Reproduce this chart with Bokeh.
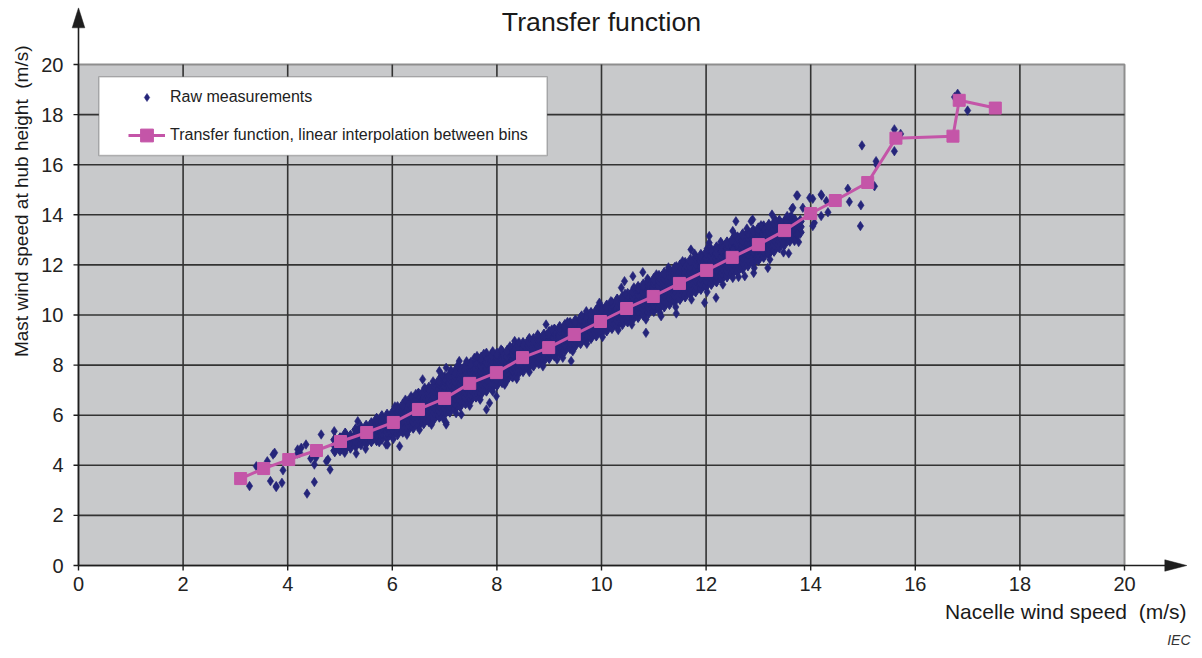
import math
from bokeh.plotting import figure
from bokeh.models import (Range1d, FixedTicker, Label, BoxAnnotation, Legend,
                          LegendItem, Title)
from bokeh.embed import file_html
from bokeh.resources import INLINE

# ---------------- data ----------------
x_ticks = [0, 2, 4, 6, 8, 10, 12, 14, 16, 18, 20]
y_ticks = [0, 2, 4, 6, 8, 10, 12, 14, 16, 18, 20]

# transfer function (bin averages)
tf_x = [3.10, 3.54, 4.02, 4.55, 5.01, 5.51, 6.02, 6.50, 7.00, 7.48, 7.99, 8.49,
        8.99, 9.48, 9.98, 10.48, 10.99, 11.49, 12.01, 12.50, 13.00, 13.50, 14.00,
        14.47, 15.09, 15.63, 16.72, 16.84, 17.53]
tf_y = [3.47, 3.87, 4.23, 4.59, 4.95, 5.31, 5.71, 6.23, 6.67, 7.27, 7.70, 8.30,
        8.70, 9.22, 9.74, 10.26, 10.74, 11.26, 11.78, 12.30, 12.81, 13.37, 14.05,
        14.57, 15.29, 17.06, 17.14, 18.57, 18.26]

# raw measurements, dense core read column by column (nacelle speed, mast speeds)
raw_columns = [
    (4.9, [4.58, 4.80, 5.02]),
    (5.0, [4.62, 4.84, 5.06]),
    (5.1, [4.66, 4.88, 5.10, 5.25]),
    (5.2, [4.72, 4.94, 5.16]),
    (5.3, [4.78, 5.00, 5.22, 5.42]),
    (5.4, [4.86, 5.08, 5.30, 5.50]),
    (5.5, [4.90, 5.12, 5.34, 5.56]),
    (5.6, [4.98, 5.20, 5.42, 5.66]),
    (5.7, [5.02, 5.24, 5.46, 5.68, 5.84]),
    (5.8, [5.08, 5.30, 5.52, 5.74, 5.94]),
    (5.9, [5.12, 5.34, 5.56, 5.78, 6.00]),
    (6.0, [5.20, 5.42, 5.64, 5.86, 6.08]),
    (6.1, [5.26, 5.48, 5.70, 5.92, 6.14, 6.30]),
    (6.2, [5.36, 5.58, 5.80, 6.02, 6.24, 6.40]),
    (6.3, [5.42, 5.64, 5.86, 6.08, 6.30, 6.52]),
    (6.4, [5.52, 5.74, 5.96, 6.18, 6.40, 6.62]),
    (6.5, [5.60, 5.82, 6.04, 6.26, 6.48, 6.70, 6.84]),
    (6.6, [5.70, 5.92, 6.14, 6.36, 6.58, 6.80, 6.94]),
    (6.7, [5.78, 6.00, 6.22, 6.44, 6.66, 6.88, 7.08]),
    (6.8, [5.88, 6.10, 6.32, 6.54, 6.76, 6.98, 7.20]),
    (6.9, [5.96, 6.18, 6.40, 6.62, 6.84, 7.06, 7.28, 7.40]),
    (7.0, [6.06, 6.28, 6.50, 6.72, 6.94, 7.16, 7.38, 7.50]),
    (7.1, [6.16, 6.38, 6.60, 6.82, 7.04, 7.26, 7.48, 7.62]),
    (7.2, [6.26, 6.48, 6.70, 6.92, 7.14, 7.36, 7.58, 7.74]),
    (7.3, [6.38, 6.60, 6.82, 7.04, 7.26, 7.48, 7.70, 7.84]),
    (7.4, [6.50, 6.72, 6.94, 7.16, 7.38, 7.60, 7.82, 7.96]),
    (7.5, [6.62, 6.84, 7.06, 7.28, 7.50, 7.72, 7.94, 8.06]),
    (7.6, [6.76, 6.98, 7.20, 7.42, 7.64, 7.86, 8.08, 8.16]),
    (7.7, [6.88, 7.10, 7.32, 7.54, 7.76, 7.98, 8.20, 8.28]),
    (7.8, [7.00, 7.22, 7.44, 7.66, 7.88, 8.10, 8.32]),
    (7.9, [7.10, 7.32, 7.54, 7.76, 7.98, 8.20, 8.40]),
    (8.0, [7.22, 7.44, 7.66, 7.88, 8.10, 8.30, 8.44]),
    (8.1, [7.34, 7.56, 7.78, 8.00, 8.22, 8.44, 8.52]),
    (8.2, [7.46, 7.68, 7.90, 8.12, 8.34, 8.56]),
    (8.3, [7.56, 7.78, 8.00, 8.22, 8.44, 8.66]),
    (8.4, [7.66, 7.88, 8.10, 8.32, 8.54, 8.76]),
    (8.5, [7.78, 8.00, 8.22, 8.44, 8.66, 8.86]),
    (8.6, [7.90, 8.12, 8.34, 8.56, 8.78, 8.94]),
    (8.7, [8.00, 8.22, 8.44, 8.66, 8.88, 9.02]),
    (8.8, [8.10, 8.32, 8.54, 8.76, 8.98, 9.10]),
    (8.9, [8.20, 8.42, 8.64, 8.86, 9.08, 9.20]),
    (9.0, [8.30, 8.52, 8.74, 8.96, 9.18, 9.30]),
    (9.1, [8.40, 8.62, 8.84, 9.06, 9.28, 9.40]),
    (9.2, [8.50, 8.72, 8.94, 9.16, 9.38, 9.50]),
    (9.3, [8.60, 8.82, 9.04, 9.26, 9.48, 9.58]),
    (9.4, [8.70, 8.92, 9.14, 9.36, 9.58, 9.66]),
    (9.5, [8.80, 9.02, 9.24, 9.46, 9.68, 9.76]),
    (9.6, [8.90, 9.12, 9.34, 9.56, 9.78, 9.86]),
    (9.7, [9.00, 9.22, 9.44, 9.66, 9.88, 9.96]),
    (9.8, [9.10, 9.32, 9.54, 9.76, 9.98, 10.06]),
    (9.9, [9.20, 9.42, 9.64, 9.86, 10.08, 10.16]),
    (10.0, [9.30, 9.52, 9.74, 9.96, 10.18, 10.26]),
    (10.1, [9.40, 9.62, 9.84, 10.06, 10.28, 10.36]),
    (10.2, [9.50, 9.72, 9.94, 10.16, 10.38, 10.46]),
    (10.3, [9.58, 9.80, 10.02, 10.24, 10.46, 10.60]),
    (10.4, [9.66, 9.88, 10.10, 10.32, 10.54, 10.70]),
    (10.5, [9.76, 9.98, 10.20, 10.42, 10.64, 10.82]),
    (10.6, [9.86, 10.08, 10.30, 10.52, 10.74, 10.94]),
    (10.7, [9.94, 10.16, 10.38, 10.60, 10.82, 11.04, 11.10]),
    (10.8, [10.02, 10.24, 10.46, 10.68, 10.90, 11.12, 11.20]),
    (10.9, [10.10, 10.32, 10.54, 10.76, 10.98, 11.20, 11.32]),
    (11.0, [10.18, 10.40, 10.62, 10.84, 11.06, 11.28, 11.42]),
    (11.1, [10.28, 10.50, 10.72, 10.94, 11.16, 11.38, 11.54]),
    (11.2, [10.36, 10.58, 10.80, 11.02, 11.24, 11.46, 11.66]),
    (11.3, [10.46, 10.68, 10.90, 11.12, 11.34, 11.56, 11.76]),
    (11.4, [10.56, 10.78, 11.00, 11.22, 11.44, 11.66, 11.86]),
    (11.5, [10.66, 10.88, 11.10, 11.32, 11.54, 11.76, 11.96]),
    (11.6, [10.76, 10.98, 11.20, 11.42, 11.64, 11.86, 12.06]),
    (11.7, [10.86, 11.08, 11.30, 11.52, 11.74, 11.96, 12.18]),
    (11.8, [10.96, 11.18, 11.40, 11.62, 11.84, 12.06, 12.28]),
    (11.9, [11.06, 11.28, 11.50, 11.72, 11.94, 12.16, 12.38]),
    (12.0, [11.16, 11.38, 11.60, 11.82, 12.04, 12.26, 12.48]),
    (12.1, [11.26, 11.48, 11.70, 11.92, 12.14, 12.36, 12.58]),
    (12.2, [11.36, 11.58, 11.80, 12.02, 12.24, 12.46, 12.68]),
    (12.3, [11.46, 11.68, 11.90, 12.12, 12.34, 12.56, 12.78]),
    (12.4, [11.56, 11.78, 12.00, 12.22, 12.44, 12.66, 12.88]),
    (12.5, [11.66, 11.88, 12.10, 12.32, 12.54, 12.76, 12.98]),
    (12.6, [11.76, 11.98, 12.20, 12.42, 12.64, 12.86, 13.08]),
    (12.7, [11.88, 12.10, 12.32, 12.54, 12.76, 12.98, 13.20]),
    (12.8, [12.00, 12.22, 12.44, 12.66, 12.88, 13.10, 13.28]),
    (12.9, [12.10, 12.32, 12.54, 12.76, 12.98, 13.20, 13.36]),
    (13.0, [12.22, 12.44, 12.66, 12.88, 13.10, 13.32, 13.44]),
    (13.1, [12.34, 12.56, 12.78, 13.00, 13.22, 13.44, 13.52]),
    (13.2, [12.46, 12.68, 12.90, 13.12, 13.34, 13.58]),
    (13.3, [12.58, 12.80, 13.02, 13.24, 13.46, 13.66]),
    (13.4, [12.72, 12.94, 13.16, 13.38, 13.60, 13.74]),
    (13.5, [12.84, 13.06, 13.28, 13.50, 13.72]),
    (13.6, [12.98, 13.20, 13.42, 13.64, 13.84]),
    (13.7, [13.10, 13.32, 13.54, 13.76]),
    (13.8, [13.30, 13.52, 13.74]),
]

# raw measurements, scattered points outside the dense core
raw_loose = [
    (3.27, 3.17), (3.67, 3.37), (3.89, 3.30), (3.78, 3.17), (4.51, 3.33), (4.37, 2.87),
    (4.81, 3.83), (3.91, 3.80), (3.72, 4.43), (3.61, 4.16), (4.19, 4.47), (4.26, 4.70),
    (4.44, 4.27), (4.51, 4.03), (4.74, 4.16), (5.31, 4.47), (5.09, 4.50), (5.49, 4.66),
    (6.14, 4.76), (5.88, 4.83), (3.78, 3.13), (3.40, 3.96), (3.75, 4.50), (4.19, 4.63),
    (4.64, 5.23), (4.89, 5.36), (5.34, 5.76), (7.03, 5.63), (4.54, 4.30), (4.35, 4.83),
    (4.77, 4.23), (5.12, 4.96), (4.23, 4.50), (5.91, 4.83), (7.03, 5.70), (7.32, 6.03),
    (7.80, 6.23), (7.86, 6.49), (7.99, 6.76), (6.90, 7.76), (7.03, 7.89), (7.28, 8.16),
    (7.57, 8.29), (7.80, 8.49), (8.34, 8.96), (8.94, 9.62), (9.42, 8.16), (9.26, 8.29),
    (9.96, 10.49), (9.71, 10.15), (6.36, 6.76), (6.58, 7.43),
    (10.85, 9.29), (11.43, 10.06), (11.14, 9.95), (12.19, 10.69), (11.97, 10.49),
    (10.60, 11.55), (10.44, 11.35), (10.38, 11.09), (10.79, 11.71), (11.71, 12.61),
    (12.06, 13.15), (12.06, 12.88), (12.57, 13.74), (12.51, 13.35), (12.89, 13.81),
    (13.26, 14.01), (13.18, 11.88), (12.74, 11.55), (12.91, 11.68), (12.51, 11.48),
    (13.58, 12.46), (13.77, 12.91), (13.73, 14.77), (14.20, 14.81), (13.98, 14.68),
    (14.71, 15.04), (14.74, 14.52), (14.33, 14.10), (14.20, 13.95), (13.64, 14.24),
    (13.59, 13.81), (13.72, 13.21), (13.44, 13.68), (11.36, 11.09), (11.43, 11.95),
    (12.86, 13.74), (12.51, 12.61),
    (15.60, 17.41), (15.60, 16.54), (14.98, 16.77), (15.25, 16.14), (15.26, 16.01),
    (15.22, 15.14), (14.96, 14.38), (14.95, 13.55), (14.21, 14.77), (13.75, 14.77),
    (14.04, 14.64), (14.30, 14.55), (14.07, 13.68), (14.04, 13.55), (13.85, 14.28),
    (13.66, 14.28), (13.63, 13.95), (13.53, 13.74), (13.75, 13.21), (13.69, 12.95),
    (13.47, 12.88), (16.81, 18.83), (16.75, 18.70), (17.00, 18.16), (15.72, 17.23),
    # upper edge of the band
    (6.05, 6.35), (6.25, 6.62), (6.45, 6.85), (6.62, 7.10), (6.78, 7.35), (6.95, 7.58),
    (7.12, 7.80), (7.25, 7.98), (7.42, 8.15), (7.62, 8.36), (7.75, 8.45), (7.92, 8.55),
    (8.08, 8.62), (8.25, 8.75), (8.42, 8.92), (8.62, 9.08), (8.78, 9.22), (9.05, 9.42),
    (9.35, 9.72), (9.62, 9.98), (9.92, 10.28), (10.18, 10.55), (10.45, 10.85),
    (10.62, 11.10), (10.88, 11.45), (11.05, 11.62), (11.28, 11.90), (11.55, 12.15),
    (11.78, 12.45), (12.02, 12.65), (12.28, 12.92), (12.55, 13.18), (12.78, 13.45),
    (13.05, 13.58), (13.32, 13.82), (13.55, 13.95),
    # lower edge of the band
    (5.75, 4.92), (6.02, 5.05), (6.28, 5.22), (6.52, 5.42), (6.75, 5.62), (6.98, 5.85),
    (7.22, 6.08), (7.48, 6.38), (7.68, 6.62), (7.92, 6.95), (8.15, 7.22), (8.38, 7.45),
    (8.62, 7.72), (8.88, 7.95), (9.15, 8.22), (9.45, 8.55), (9.72, 8.85), (10.02, 9.12),
    (10.32, 9.40), (10.58, 9.62), (10.85, 9.82), (11.12, 10.08), (11.42, 10.32),
    (11.72, 10.62), (12.02, 10.92), (12.32, 11.22), (12.62, 11.52), (12.92, 11.88),
    (13.22, 12.22), (13.48, 12.50),
]

core_x = [cx for cx, ys in raw_columns for _ in ys]
core_y = [yy for cx, ys in raw_columns for yy in ys]
loose_x = [pt[0] for pt in raw_loose]
loose_y = [pt[1] for pt in raw_loose]

# ---------------- style / geometry ----------------
FONT = "Liberation Sans"
NAVY = "#25257a"
MAG = "#c455a8"
GRAY_BG = "#c8c9cb"
DARK = "#1e1e1e"
GRID = "#333333"
AREA_MAX = 20
PX_X = 52.3     # screen px per x unit
PX_Y = 25.05    # screen px per y unit
X_LO, X_HI = -13 / PX_X, 1109 / PX_X
Y_LO, Y_HI = -11 / PX_Y, 558 / PX_Y

p = figure(width=1192, height=656, title=None,
           x_range=Range1d(X_LO, X_HI), y_range=Range1d(Y_LO, Y_HI),
           output_backend="svg", toolbar_location=None,
           min_border_left=65, min_border_right=5, min_border_top=7, min_border_bottom=80)
p.outline_line_color = None
p.background_fill_color = "white"
p.border_fill_color = "white"
p.xgrid.visible = False
p.ygrid.visible = False

# grey plot area
p.quad(left=[0], right=[AREA_MAX], bottom=[0], top=[AREA_MAX], fill_color=GRAY_BG,
       line_color="#8e8e8e", line_width=2, level="image")

# grid lines limited to the grey area
gx = x_ticks[1:-1]
gy = y_ticks[1:-1]
p.segment(x0=gx, y0=[0] * len(gx), x1=gx, y1=[AREA_MAX] * len(gx),
          line_color=GRID, line_width=1.6, level="underlay")
p.segment(x0=[0] * len(gy), y0=gy, x1=[AREA_MAX] * len(gy), y1=gy,
          line_color=GRID, line_width=1.6, level="underlay")

# axis lines, tick marks and arrow heads
p.segment(x0=[0, 0], y0=[0, 0], x1=[X_HI - 10 / PX_X, 0], y1=[0, Y_HI - 10 / PX_Y],
          line_color=DARK, line_width=1.6, level="underlay")
p.segment(x0=x_ticks, y0=[0] * len(x_ticks), x1=x_ticks, y1=[-5 / PX_Y] * len(x_ticks),
          line_color=DARK, line_width=1.4, level="underlay")
p.segment(x0=[0] * len(y_ticks), y0=y_ticks, x1=[-5 / PX_X] * len(y_ticks), y1=y_ticks,
          line_color=DARK, line_width=1.4, level="underlay")
tip_x = X_HI - 0.7 / PX_X
tip_y = Y_HI - 0.3 / PX_Y
p.patches(xs=[[0, -6.3 / PX_X, 6.3 / PX_X], [tip_x, tip_x - 22 / PX_X, tip_x - 22 / PX_X]],
          ys=[[tip_y, tip_y - 20 / PX_Y, tip_y - 20 / PX_Y], [0, 5.7 / PX_Y, -5.7 / PX_Y]],
          fill_color=DARK, line_color=DARK, line_width=0.5, level="underlay")

# tick labels via the axes (their own lines and ticks hidden)
for ax, tks in ((p.xaxis, x_ticks), (p.yaxis, y_ticks)):
    ax.ticker = FixedTicker(ticks=tks)
    ax.axis_line_color = None
    ax.major_tick_line_color = None
    ax.minor_tick_line_color = None
    ax.major_tick_in = 0
    ax.major_tick_out = 0
    ax.minor_tick_in = 0
    ax.minor_tick_out = 0
    ax.major_label_text_font = FONT
    ax.major_label_text_font_size = "20px"
    ax.major_label_text_color = "#222222"
p.xaxis.major_label_standoff = 0
p.yaxis.major_label_standoff = 2

# data
p.scatter(core_x, core_y, marker="diamond", size=12, fill_color=NAVY,
          line_color=NAVY, line_width=1.0)
raw_r = p.scatter(loose_x, loose_y, marker="diamond", size=9.5, fill_color=NAVY,
                  line_color=NAVY, line_width=0.6)
tf_line = p.line(tf_x, tf_y, line_color=MAG, line_width=3)
tf_sq = p.scatter(tf_x, tf_y, marker="square", size=12, fill_color=MAG, line_color=MAG)

# legend box + legends
p.add_layout(BoxAnnotation(left=0.39, right=8.96, bottom=16.37, top=19.51,
                           fill_color="white", fill_alpha=1.0,
                           line_color="#333333", line_width=1.5))
common = dict(padding=0, margin=0, spacing=0, glyph_width=37, label_standoff=5,
              label_text_font=FONT, label_text_font_size="16px",
              label_text_color="#222222", border_line_alpha=0,
              background_fill_alpha=0)
leg1 = Legend(items=[LegendItem(label="Raw measurements", renderers=[raw_r])],
              location=(63, 469), glyph_height=20, label_height=20, **common)
leg2 = Legend(items=[LegendItem(label="Transfer function, linear interpolation between bins",
                                renderers=[tf_line, tf_sq])],
              location=(63, 425), glyph_height=32, label_height=32, **common)
p.add_layout(leg1)
p.add_layout(leg2)

# chart title inside the frame
p.add_layout(Label(x=10, y=544 / PX_Y, text="Transfer function", text_align="center",
                   text_baseline="alphabetic", text_font=FONT, text_font_size="26.7px",
                   text_color="#1a1a1a"))

# axis titles in the side panels
p.add_layout(Title(text="Mast wind speed at hub height \u00a0(m/s)", align="right", offset=38,
                   standoff=14, text_font=FONT, text_font_size="19px",
                   text_font_style="normal", text_color="#1a1a1a"), "left")
p.add_layout(Title(text="Nacelle wind speed \u00a0(m/s)", align="right", offset=1,
                   standoff=8, text_font=FONT, text_font_size="21px",
                   text_font_style="normal", text_color="#1a1a1a"), "below")
p.add_layout(Title(text="IEC", align="right", offset=-3, standoff=6,
                   text_font=FONT, text_font_size="14px", text_font_style="italic",
                   text_color="#333333"), "below")

open("out.html", "w").write(file_html(p, INLINE))
